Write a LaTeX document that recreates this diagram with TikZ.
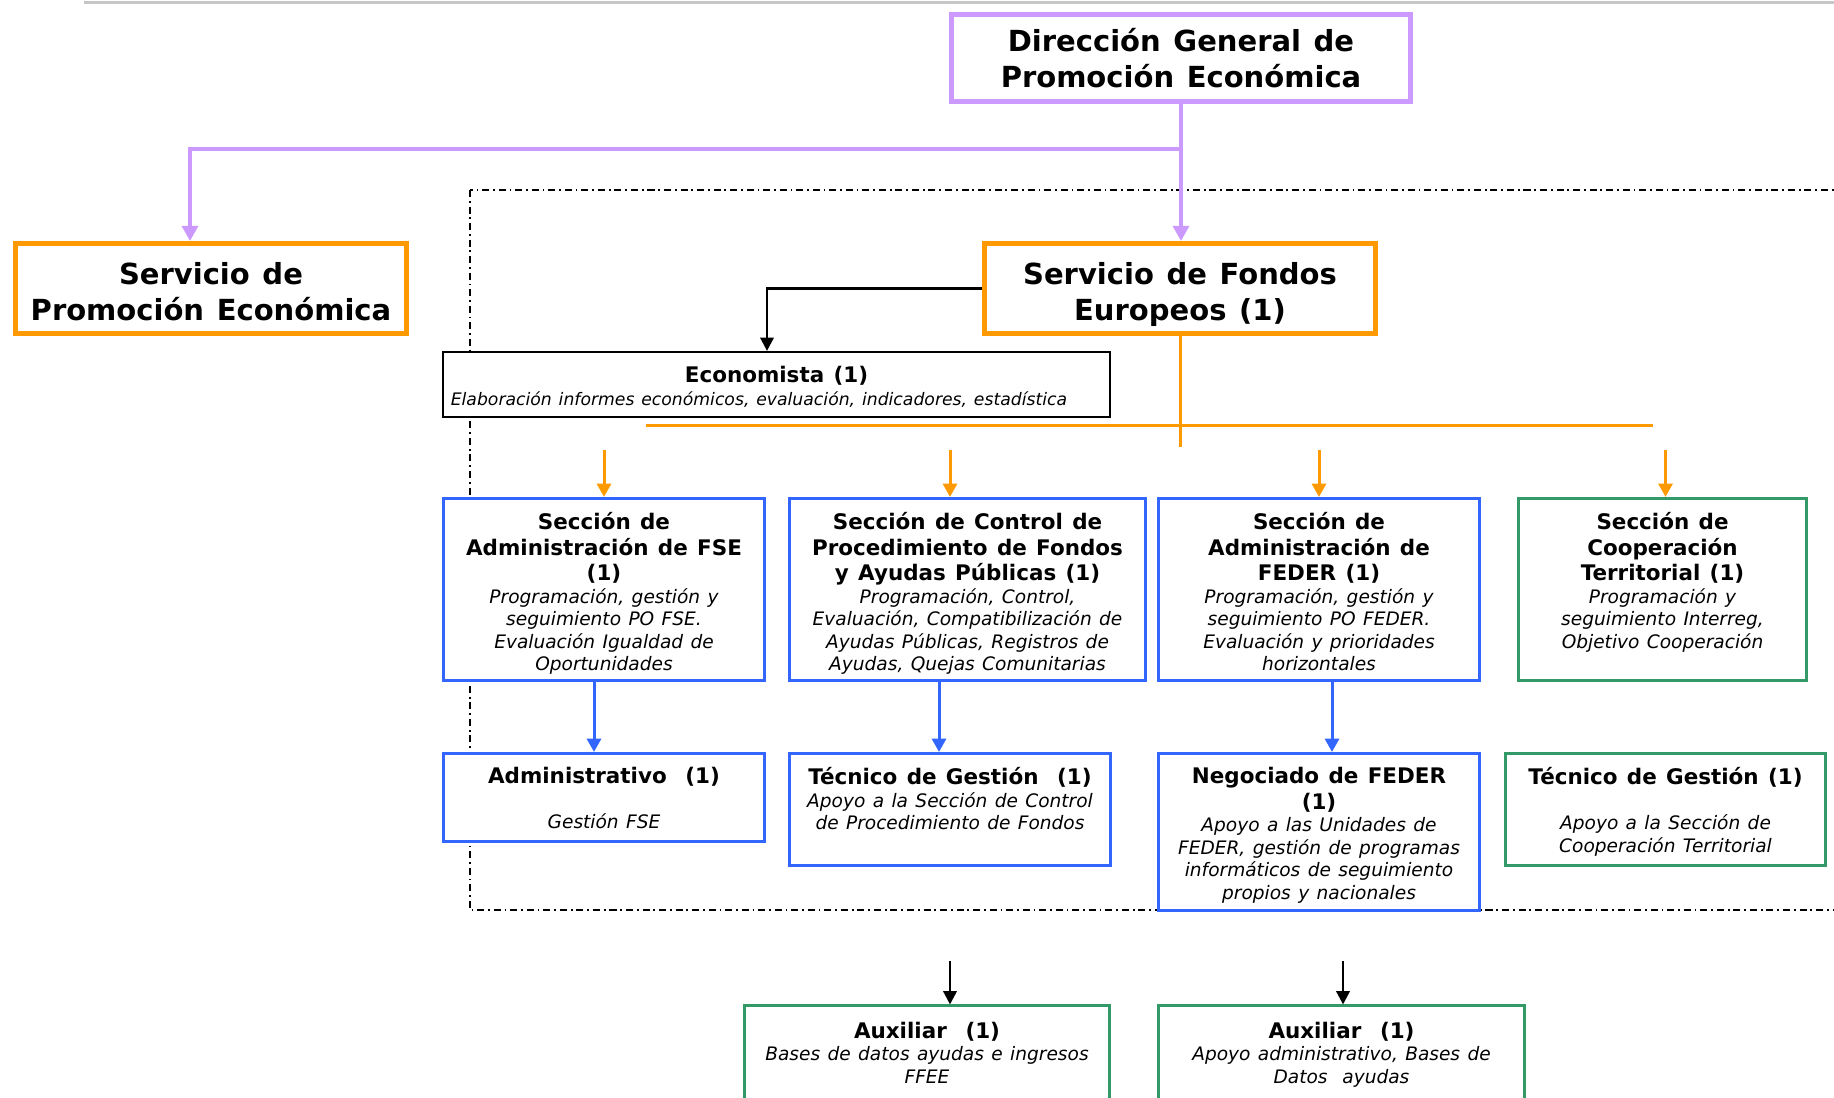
\documentclass[tikz,border=0pt]{standalone}
\usepackage{fontspec}
\setmainfont{DejaVu Sans}[WordSpace=1.25]
\usetikzlibrary{positioning,calc,arrows.meta}

\definecolor{lila}{RGB}{204,153,255}
\definecolor{naranja}{RGB}{255,153,0}
\definecolor{azul}{RGB}{51,102,255}
\definecolor{verde}{RGB}{51,153,102}

\newcommand{\grande}{\fontsize{8.25}{10.2}\selectfont\bfseries}
\newcommand{\titulo}{\fontsize{6.1}{7.25}\selectfont\bfseries}
\newcommand{\descr}{\fontsize{5.28}{6.4}\selectfont\itshape}

\begin{document}
\begin{tikzpicture}[x=0.01cm,y=-0.01cm]
  \tikzset{ jefe/.style={draw=lila,line width=1.4pt,fill=white,inner sep=0pt,align=center,font=\grande,text depth=0pt},
    serv/.style={jefe,draw=naranja},
    grande/.style={inner sep=0pt,align=center,font=\grande},
    caja/.style={draw=#1,line width=0.85pt,fill=white,inner sep=0pt},
    texto/.style={anchor=north,align=flush center,inner sep=0pt,text width=#1},
    marco/.style={line width=0.6pt,dash pattern=on 2pt off 1.1pt on 0.5pt off 1.1pt},
    flila/.style={draw=lila,line width=1.4pt,-{Triangle[width=4.5pt,length=4.3pt]}},
    lnar/.style={draw=naranja,line width=0.85pt},
    fnar/.style={lnar,-{Triangle[width=4pt,length=3.8pt]}},
    fazul/.style={draw=azul,line width=0.85pt,-{Triangle[width=4pt,length=3.8pt]}},
    fnegra/.style={draw=black,line width=0.7pt,-{Triangle[width=3.8pt,length=3.8pt]}},
  }
  \useasboundingbox (0,0) rectangle (1834,1098);

  % the grey rule at the top
  \draw[gray!45,line width=0.85pt] (84,3) -- (1834,3);

  % dash-dot frame round the service
  \draw[marco] (470,190) rectangle (1900,910);

  \node[jefe,minimum width=4.58cm,minimum height=0.87cm] (dg) at (1181,58) {Dirección General de\\Promoción Económica};
  \node[serv,minimum width=3.91cm,minimum height=0.9cm] (spe) at (211,288.5) {};
  \node[serv,minimum width=3.9cm,minimum height=0.9cm] (sfe) at (1180,288.5) {};
  \node[grande] (spe-t) at ([shift={(0,3)}]spe.center) {Servicio de\\Promoción Económica};
  \node[grande] (sfe-t) at ([shift={(0,6)}]sfe.center) {Servicio de Fondos\\Europeos (1)};

  \node[caja=black,line width=0.6pt,minimum width=6.67cm,minimum height=0.65cm] (eco) at (776.5,384.5) {};

  % sections
  \node[caja=azul,minimum width=3.21cm,minimum height=1.82cm] (fse) at (604,589.5) {};
  \node[caja=azul,minimum width=3.56cm,minimum height=1.82cm] (ctrl) at (967.5,589.5) {};
  \node[caja=azul,minimum width=3.21cm,minimum height=1.82cm] (feder) at (1319,589.5) {};
  \node[caja=verde,minimum width=2.88cm,minimum height=1.82cm] (coop) at (1662.5,589.5) {};

  % staff
  \node[caja=azul,minimum width=3.21cm,minimum height=0.88cm] (adm) at (604,797.5) {};
  \node[caja=azul,minimum width=3.21cm,minimum height=1.12cm] (tec1) at (950,809.5) {};
  \node[caja=azul,minimum width=3.21cm,minimum height=1.57cm] (neg) at (1319,832) {};
  \node[caja=verde,minimum width=3.2cm,minimum height=1.12cm] (tec2) at (1665.5,809.5) {};
  \node[caja=verde,minimum width=3.65cm,minimum height=1.14cm] (aux1) at (927,1063) {};
  \node[caja=verde,minimum width=3.66cm,minimum height=1.14cm] (aux2) at (1341.5,1063) {};

  % texts of the boxes
  \node[texto=6.6cm] (eco-t) at ([shift={(0,15)}]eco.north) {{\titulo Economista (1)\par}{\fontsize{4.9}{6.3}\selectfont\itshape\hspace*{-10pt}Elaboración informes económicos, evaluación, indicadores, estadística\par}};
  \node[texto=3.2cm] (fse-t) at ([shift={(0,15)}]fse.north) {{\titulo Sección de\\Administración de FSE\\(1)\par}{\descr Programación, gestión y\\seguimiento PO FSE.\\Evaluación Igualdad de\\Oportunidades\par}};
  \node[texto=3.5cm] (ctrl-t) at ([shift={(0,15)}]ctrl.north) {{\titulo Sección de Control de\\Procedimiento de Fondos\\y Ayudas Públicas (1)\par}{\descr Programación, Control,\\Evaluación, Compatibilización de\\Ayudas Públicas, Registros de\\Ayudas, Quejas Comunitarias\par}};
  \node[texto=3.2cm] (feder-t) at ([shift={(0,15)}]feder.north) {{\titulo Sección de\\Administración de\\FEDER (1)\par}{\descr Programación, gestión y\\seguimiento PO FEDER.\\Evaluación y prioridades\\horizontales\par}};
  \node[texto=2.85cm] (coop-t) at ([shift={(0,15)}]coop.north) {{\titulo Sección de\\Cooperación\\Territorial (1)\par}{\descr Programación y\\seguimiento Interreg,\\Objetivo Cooperación\par}};
  \node[texto=3.2cm] (adm-t) at ([shift={(0,15)}]adm.north) {{\titulo Administrativo\ \ (1)\par}{\descr \mbox{}\\Gestión FSE\par}};
  \node[texto=3.2cm] (tec1-t) at ([shift={(0,15)}]tec1.north) {{\titulo Técnico de Gestión\ \ (1)\par}{\descr Apoyo a la Sección de Control\\de Procedimiento de Fondos\par}};
  \node[texto=3.2cm] (neg-t) at ([shift={(0,15)}]neg.north) {{\titulo Negociado de FEDER\\(1)\par}{\descr Apoyo a las Unidades de\\FEDER, gestión de programas\\informáticos de seguimiento\\propios y nacionales\par}};
  \node[texto=3.2cm] (tec2-t) at ([shift={(0,15)}]tec2.north) {{\titulo Técnico de Gestión (1)\par}{\descr \mbox{}\\Apoyo a la Sección de\\Cooperación Territorial\par}};
  \node[texto=3.6cm] (aux1-t) at ([shift={(0,17)}]aux1.north) {{\titulo Auxiliar\ \ (1)\par}{\descr Bases de datos ayudas e ingresos\\FFEE\par}};
  \node[texto=3.6cm] (aux2-t) at ([shift={(0,17)}]aux2.north) {{\titulo Auxiliar\ \ (1)\par}{\descr Apoyo administrativo, Bases de\\Datos\ \ ayudas\par}};

  % lines from the Direccion General
  \coordinate (codo) at (190,149);
  \draw[flila] (dg.south) -- (dg.south |- codo) -- (codo) -- (codo |- spe.north);
  \draw[flila] (dg.south) -- (dg.south |- sfe.north);

  \draw[fnegra] (sfe.west) -| ([shift={(-9.5,0)}]eco.north);

  % orange lines to the sections
  \coordinate (bajada) at (1180,447);
  \coordinate (busL) at (646,426);
  \coordinate (busR) at (1653,426);
  \draw[lnar] (sfe.south) -- (sfe.south |- bajada);
  \draw[lnar] (busL) -- (busR);
  \foreach \s/\dx in {fse/0,ctrl/-17.5,feder/0,coop/3}
    \draw[fnar] ([shift={(\dx,-47)}]\s.north) -- ([shift={(\dx,0)}]\s.north);

  % blue arrows
  \draw[fazul] ([shift={(-10,0)}]fse.south) -- ([shift={(-10,0)}]adm.north);
  \draw[fazul] ([shift={(-28.5,0)}]ctrl.south) -- ([shift={(-11,0)}]tec1.north);
  \draw[fazul] ([shift={(13,0)}]feder.south) -- ([shift={(13,0)}]neg.north);

  % black arrows at the bottom
  \coordinate (a1) at (950,961);
  \coordinate (a2) at (1343,961);
  \draw[fnegra] (a1) -- (a1 |- aux1.north);
  \draw[fnegra] (a2) -- (a2 |- aux2.north);
\end{tikzpicture}
\end{document}
